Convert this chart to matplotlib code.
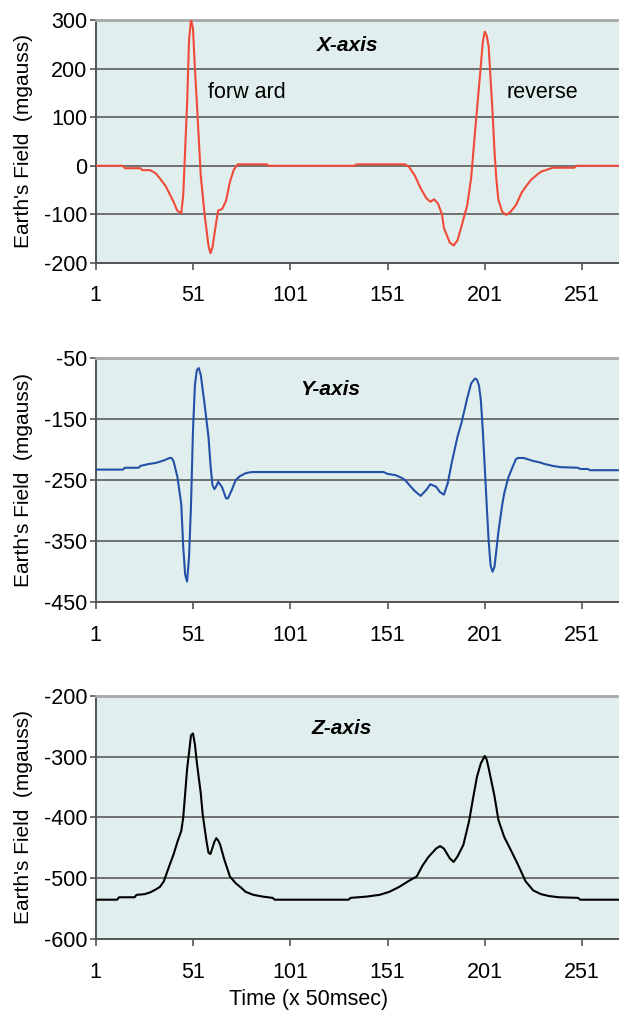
import matplotlib.pyplot as plt

plt.rcParams['font.family'] = ['Liberation Sans', 'DejaVu Sans']
plt.rcParams['axes.unicode_minus'] = False

# sample index (x 50 msec) and field readings in mgauss for each sensor axis
t_x = [1, 15, 16, 24, 25, 29, 32, 34, 37, 39, 41, 43, 45, 46, 48, 49, 50, 51, 52, 53,
       55, 57, 59, 60, 61, 63, 64, 66, 68, 70, 72, 74, 89, 90, 134, 135, 160, 162, 165,
       168, 171, 173, 175, 177, 179, 180, 183, 185, 187, 189, 192, 194, 196, 199, 200,
       201, 202, 203, 205, 206, 207, 208, 210, 212, 214, 217, 220, 223, 225, 228, 230,
       233, 236, 247, 248, 270]
field_x = [0, 0, -5, -5, -9, -9, -16, -26, -42, -58, -74, -93, -97, -60, 130, 260, 300,
           283, 200, 130, -20, -101, -165, -180, -168, -115, -92, -89, -72, -33, -8, 3, 3,
           0, 0, 3, 3, -2, -20, -46, -67, -74, -69, -78, -100, -128, -158, -164, -153,
           -125, -81, -25, 70, 207, 255, 276, 268, 245, 110, 30, -30, -70, -95, -101, -96,
           -81, -55, -38, -28, -18, -12, -8, -4, -4, 0, 0]

t_y = [1, 15, 16, 23, 24, 28, 32, 36, 39, 40, 41, 43, 45, 46, 47, 48, 49, 50, 51, 52,
       53, 54, 55, 57, 59, 60, 61, 62, 63, 64, 66, 68, 69, 71, 73, 75, 78, 81, 149, 151,
       155, 158, 160, 163, 165, 168, 171, 173, 176, 178, 180, 182, 184, 187, 189, 192,
       194, 196, 197, 198, 199, 200, 201, 202, 203, 204, 205, 206, 208, 210, 211, 213,
       215, 217, 218, 221, 223, 226, 229, 232, 236, 240, 249, 250, 254, 255, 270]
field_y = [-233, -233, -230, -230, -227, -224, -222, -218, -214, -214, -219, -245, -290,
           -360, -405, -416, -375, -290, -170, -95, -70, -67, -78, -127, -180, -225, -258,
           -265, -260, -253, -262, -280, -280, -266, -250, -244, -239, -237, -237, -240,
           -242, -246, -250, -261, -268, -276, -266, -257, -261, -270, -274, -255, -222,
           -179, -157, -116, -92, -84, -86, -95, -120, -170, -230, -291, -350, -390, -400,
           -392, -335, -290, -272, -247, -231, -216, -214, -214, -216, -219, -221, -224,
           -227, -229, -230, -232, -232, -234, -234]

t_z = [1, 12, 13, 21, 22, 26, 29, 32, 34, 36, 37, 39, 41, 43, 45, 46, 47, 48, 49, 50, 51,
       52, 53, 55, 56, 58, 59, 60, 61, 62, 63, 64, 65, 67, 70, 73, 76, 78, 82, 87, 92, 93,
       131, 132, 140, 147, 152, 157, 162, 166, 169, 172, 176, 178, 180, 183, 185, 187,
       190, 193, 195, 197, 199, 201, 202, 203, 206, 208, 211, 214, 218, 222, 226, 230,
       234, 239, 249, 250, 270]
field_z = [-535, -535, -531, -531, -527, -526, -523, -518, -514, -505, -496, -478, -461,
           -440, -422, -400, -360, -320, -293, -265, -262, -280, -310, -360, -395, -440,
           -458, -460, -450, -440, -434, -438, -445, -468, -497, -508, -516, -522, -527,
           -530, -532, -535, -535, -532, -530, -527, -522, -514, -504, -497, -479, -465,
           -451, -447, -451, -467, -473, -464, -445, -405, -368, -333, -311, -299, -305,
           -319, -365, -404, -432, -451, -477, -505, -520, -526, -529, -531, -532, -535,
           -535]

x_ticks = [1, 51, 101, 151, 201, 251]
yticks_x = [-200, -100, 0, 100, 200, 300]
yticks_y = [-450, -350, -250, -150, -50]
yticks_z = [-600, -500, -400, -300, -200]

bg = '#e0efed'
fig = plt.figure(figsize=(6.19, 10.15), dpi=100)

panels = [
    (0.7409, 0.2394, t_x, field_x, '#f04a38', yticks_x, 'X-axis', (0.481, 0.897)),
    (0.4066, 0.2410, t_y, field_y, '#2451a8', yticks_y, 'Y-axis', (0.448, 0.868)),
    (0.0746, 0.2400, t_z, field_z, '#000000', yticks_z, 'Z-axis', (0.470, 0.866)),
]

axes = []
for bottom, height, t, v, col, yt, name, pos in panels:
    ax = fig.add_axes([0.1546, bottom, 0.8454, height])
    ax.set_facecolor(bg)
    ax.plot(t, v, color=col, lw=1.5, zorder=3)
    ax.set_xlim(1, 270)
    ax.set_ylim(yt[0], yt[-1])
    ax.set_xticks(x_ticks)
    ax.set_yticks(yt)
    ax.grid(axis='y', color='#707070', lw=1.4)
    ax.set_axisbelow(True)
    ax.spines['right'].set_visible(False)
    ax.spines['top'].set_color('#a8a8a8')
    ax.spines['top'].set_linewidth(2)
    for s in ['left', 'bottom']:
        ax.spines[s].set_color('#555555')
        ax.spines[s].set_linewidth(1.4)
    ax.tick_params(axis='y', length=4, width=1.2, color='#555555', pad=2, labelsize=15.5)
    ax.tick_params(axis='x', length=5, width=1.2, color='#555555', pad=11, labelsize=15.5)
    ax.set_ylabel("Earth's Field  (mgauss)", fontsize=15)
    # label anchor sits at the right edge of the rotated text
    ax.yaxis.set_label_coords(-0.12, 0.5)
    ax.text(pos[0], pos[1], name, transform=ax.transAxes, ha='center', va='center',
            fontsize=15, fontweight='bold', fontstyle='italic')
    axes.append(ax)

axes[0].text(0.289, 0.70, 'forw ard', transform=axes[0].transAxes, ha='center',
             va='center', fontsize=15.5)
axes[0].text(0.854, 0.70, 'reverse', transform=axes[0].transAxes, ha='center',
             va='center', fontsize=15.5)

fig.text(0.4986, 1 - 1000 / 1015, 'Time (x 50msec)', ha='center', va='center', fontsize=15.5)

fig.savefig('out.png', dpi=100, facecolor='white')
